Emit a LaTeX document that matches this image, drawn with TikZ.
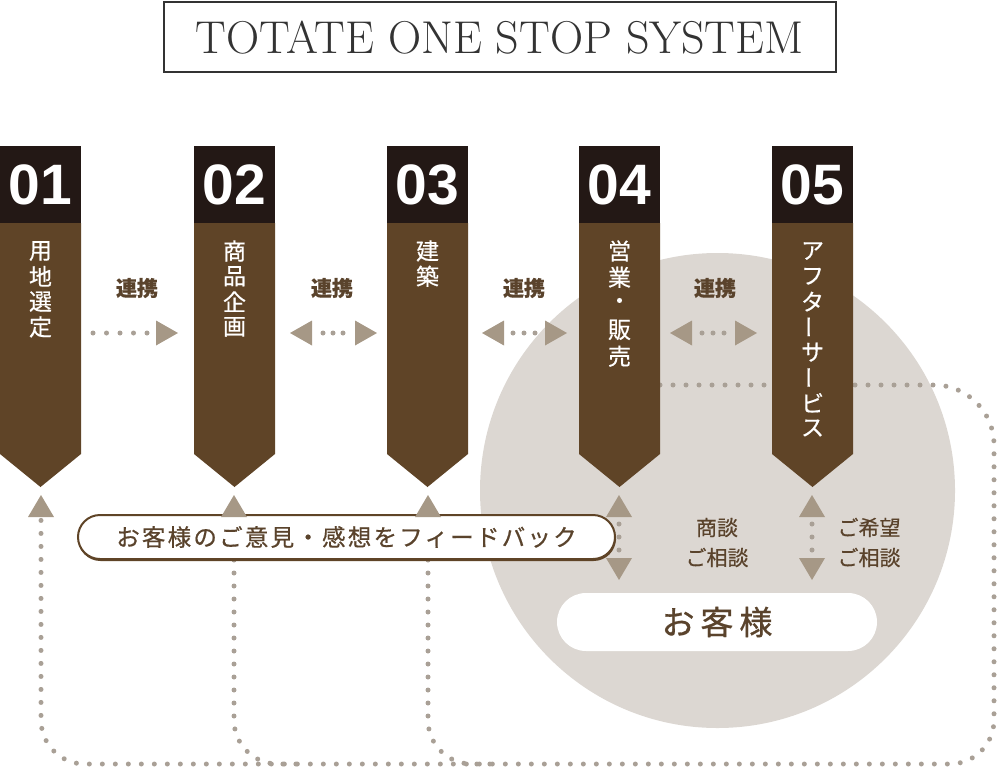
\documentclass[tikz,border=0pt]{standalone}
\usepackage{fontspec}
\newfontfamily\jp[FakeBold=0.5]{Noto Sans CJK JP}
\newfontfamily\jpsp[LetterSpace=9.5,FakeBold=0.6]{Noto Sans CJK JP}
\newfontfamily\jpcu[LetterSpace=18,FakeBold=0.8]{Noto Sans CJK JP}
\newfontfamily\numf{Liberation Sans}
\definecolor{brn}{HTML}{5F4427}
\definecolor{blk}{HTML}{231815}
\definecolor{txtb}{HTML}{5A432C}
\definecolor{tri}{HTML}{A69886}
\definecolor{dotc}{HTML}{A9A096}
\definecolor{circ}{HTML}{DCD7D2}
\definecolor{ttl}{HTML}{333333}
\newcommand\vbar{\rotatebox[origin=c]{90}{ー}}
\tikzset{
  dotline/.style={draw=dotc, line width=5pt, line cap=round, dash pattern=on 0pt off 13pt},
  vch/.style={text=white, font=\jp\fontsize{23}{23}\selectfont, inner sep=0pt},
  numlbl/.style={text=white, font=\numf\bfseries\fontsize{57}{57}\selectfont, inner sep=0pt},
  renkei/.style={text=txtb, font=\jp\bfseries\fontsize{21}{21}\selectfont, inner sep=0pt},
  uptri/.pic={\fill[tri] (0,0) -- (13,22) -- (-13,22) -- cycle;},
  dntri/.pic={\fill[tri] (0,0) -- (13,-22) -- (-13,-22) -- cycle;},
  rtri/.pic={\fill[tri] (0,0) -- (-22,-12.5) -- (-22,12.5) -- cycle;},
  ltri/.pic={\fill[tri] (0,0) -- (22,-12.5) -- (22,12.5) -- cycle;},
}
\begin{document}
\begin{tikzpicture}[x=1pt,y=-1pt]
\useasboundingbox (0,0) rectangle (1000,773);
% title
\node[draw=ttl, line width=2pt, minimum width=672pt, minimum height=70pt, inner sep=0pt,
      text=ttl, font=\fontsize{46}{46}\selectfont] (title) at (499.5,37.5) {TOTATE ONE STOP SYSTEM};
% customer circle
\fill[circ] (717.5,490.5) circle[radius=237.5];
% feedback dotted loop
\coordinate (fbstart) at (660,385);
\coordinate (fb1) at (41,520);
\coordinate (fb2) at (234,560);
\coordinate (fb3) at (428,560);
\draw[dotline, rounded corners=60pt] (fbstart) -- (994,385) [rounded corners=44pt] -- (994,764) -- (41,764) -- (fb1);
\draw[dotline, rounded corners=44pt] (fb2) -- (234,764) -- (300,764);
\draw[dotline, rounded corners=44pt] (fb3) -- (428,764) -- (494,764);
% columns
\foreach \L/\n [count=\i] in {0/01,194/02,387/03,579/04,772/05} {
  \fill[blk] (\L,146) rectangle ++(81,77);
  \fill[brn] (\L,223) -- ++(81,0) -- ++(0,231) -- ++(-40.5,33) -- ++(-40.5,-33) -- cycle;
  \node[numlbl] (num\i) at (\L+40.5,184.5) {\n};
}
\foreach \c [count=\k] in {用,地,選,定} \node[vch] (ta\k) at (40.5,251+25.3*\k-25.3) {\c};
\foreach \c [count=\k] in {商,品,企,画} \node[vch] (tb\k) at (234.5,251+25.3*\k-25.3) {\c};
\foreach \c [count=\k] in {建,築} \node[vch] (tc\k) at (427.5,251+25.3*\k-25.3) {\c};
\foreach \c [count=\k] in {営,業,・,販,売} \node[vch] (td\k) at (619.5,251+26.3*\k-26.3) {\c};
\foreach \c [count=\k] in {ア,フ,タ,\vbar,サ,\vbar,ビ,ス} \node[vch] (te\k) at (812.5,251+25.3*\k-25.3) {\c};
% renkei labels and arrows
\node[renkei] (r1) at (137,288) {連携};
\node[renkei] (r2) at (332,288) {連携};
\node[renkei] (r3) at (524,288) {連携};
\node[renkei] (r4) at (715,288) {連携};
\draw[dotline, dash pattern=on 0pt off 13.5pt] (93,333) -- (148,333);
\pic at (178,333) {rtri};
\pic at (290,333) {ltri};
\draw[dotline, dash pattern=on 0pt off 10pt] (323,333) -- (344,333);
\pic at (377,333) {rtri};
\pic at (482,333) {ltri};
\draw[dotline, dash pattern=on 0pt off 11pt] (513,333) -- (536,333);
\pic at (567,333) {rtri};
\pic at (670,333) {ltri};
\draw[dotline, dash pattern=on 0pt off 11pt] (702,333) -- (725,333);
\pic at (757,333) {rtri};
% feedback pill (with slight bottom shadow)
\fill[brn, rounded corners=22.5pt] (78,517) rectangle (616,561);
\node[draw=brn, line width=2pt, fill=white, rounded corners=22pt, minimum width=537pt, minimum height=44pt,
      inner sep=0pt, text=txtb, font=\jpsp\fontsize{23.5}{23.5}\selectfont] (fb) at (346.5,537) {お客様のご意見・感想をフィードバック};
% up arrows under columns
\pic at (41,495) {uptri};
\pic at (234,495) {uptri};
\pic at (428,495) {uptri};
% col 04 and 05 double arrows
\pic at (619,495) {uptri};
\draw[dotline, dash pattern=on 0pt off 13pt] (619,524) -- (619,551);
\pic at (619,580) {dntri};
\pic at (812,495) {uptri};
\draw[dotline, dash pattern=on 0pt off 13pt] (812,524) -- (812,551);
\pic at (812,580) {dntri};
\node[text=txtb, font=\jp\fontsize{21}{30}\selectfont, align=center, inner sep=0pt] (shodan) at (717,542.5) {商談\\ご相談};
\node[text=txtb, font=\jp\fontsize{21}{30}\selectfont, align=center, inner sep=0pt] (kibo) at (869,542.5) {ご希望\\ご相談};
% customer pill
\node[fill=white, rounded corners=29pt, minimum width=320pt, minimum height=58pt, inner sep=0pt,
      text=txtb, font=\jpcu\fontsize{33}{33}\selectfont] (cust) at (717,622) {お客様};
\end{tikzpicture}
\end{document}
